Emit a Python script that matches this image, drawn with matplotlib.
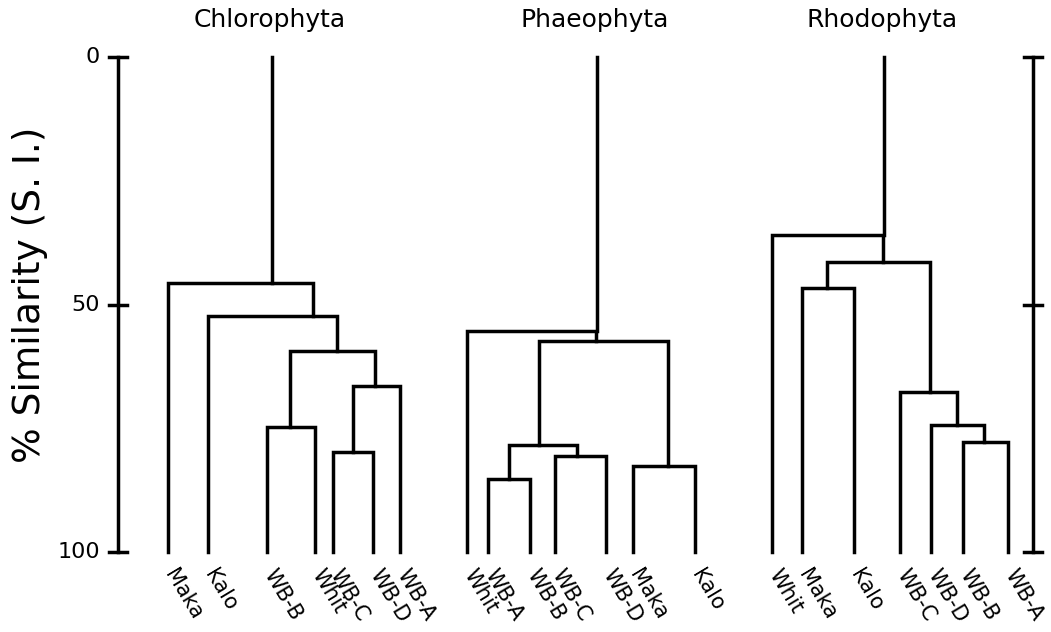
import matplotlib
matplotlib.use("Agg")
import matplotlib.pyplot as plt

# ---- data ----
# leaf order and leaf positions along the horizontal axis, per panel
chloro_leaves = ["Maka", "Kalo", "WB-B", "Whit", "WB-C", "WB-D", "WB-A"]
chloro_leaf_x = [168, 208, 267, 315, 333, 373, 400]
# merges: (left id, right id, % similarity, stem position)
chloro_merges = [(4, 5, 79.8, 353), (7, 6, 66.5, 375), (2, 3, 74.7, 290),
                 (9, 8, 59.4, 337), (1, 10, 52.3, 313), (0, 11, 45.6, 272)]

phaeo_leaves = ["Whit", "WB-A", "WB-B", "WB-C", "WB-D", "Maka", "Kalo"]
phaeo_leaf_x = [467, 488, 530, 555, 606, 633, 695]
phaeo_merges = [(1, 2, 85.3, 509), (3, 4, 80.6, 577), (7, 8, 78.4, 539),
                (5, 6, 82.6, 668), (9, 10, 57.4, 596), (0, 11, 55.4, 597)]

rhodo_leaves = ["Whit", "Maka", "Kalo", "WB-C", "WB-D", "WB-B", "WB-A"]
rhodo_leaf_x = [772, 802, 854, 900, 931, 963, 1008]
rhodo_merges = [(5, 6, 77.7, 984), (4, 7, 74.3, 957), (3, 8, 67.7, 930),
                (1, 2, 46.7, 827), (10, 9, 41.4, 883), (0, 11, 36.0, 884)]

titles = ["Chlorophyta", "Phaeophyta", "Rhodophyta"]
scale_ticks = [0, 50, 100]

panels = [(chloro_leaves, chloro_leaf_x, chloro_merges),
          (phaeo_leaves, phaeo_leaf_x, phaeo_merges),
          (rhodo_leaves, rhodo_leaf_x, rhodo_merges)]

############################
fig = plt.figure(figsize=(10.51, 6.32), dpi=100)
ax = fig.add_axes([0, 0, 1, 1])
ax.set_xlim(0, 1051)
ax.set_ylim(116.16, -11.52)
ax.axis("off")

lw = 2.5

def draw_tree(leaves, leaf_x, merges, title):
    xs = list(leaf_x)
    hs = [100.0] * len(leaves)
    for left, right, h, sx in merges:
        ax.plot([xs[left], xs[left], xs[right], xs[right]],
                [hs[left], h, h, hs[right]], color="black", lw=lw,
                solid_joinstyle="miter")
        xs.append(sx)
        hs.append(h)
    # root stem
    ax.plot([xs[-1], xs[-1]], [hs[-1], 0], color="black", lw=lw)
    for name, x in zip(leaves, leaf_x):
        ax.text(x + 10, 102.8, name, rotation=-59, rotation_mode="anchor",
                ha="left", va="top", fontsize=15)
    # title centred over the root stem
    ax.text(xs[-1] - 2, -7.5, title, ha="center", va="center", fontsize=18)

for (leaves, leaf_x, merges), title in zip(panels, titles):
    draw_tree(leaves, leaf_x, merges, title)

# scale bars on both sides
for x0, labelled in [(118, True), (1033, False)]:
    ax.plot([x0, x0], [0, 100], color="black", lw=lw)
    for t in scale_ticks:
        ax.plot([x0 - 9, x0 + 9], [t, t], color="black", lw=lw)
        if labelled:
            ax.text(x0 - 18, t, str(t), ha="right", va="center", fontsize=16)

ax.text(30, 48, "% Similarity (S. I.)", rotation=90, ha="center",
        va="center", fontsize=27)

fig.savefig("out.png", dpi=100)
